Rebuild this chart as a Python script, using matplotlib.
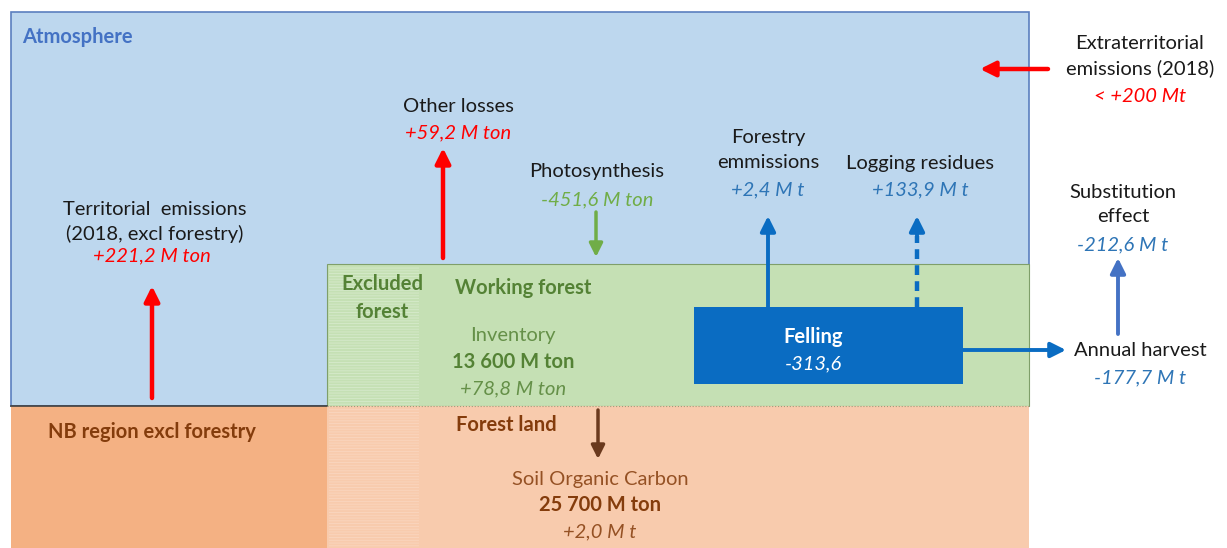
"""
Carbon flow diagram for the NB region: atmosphere, working forest, forest land.
"""

import matplotlib.pyplot as plt
from matplotlib.patches import Rectangle

# ── Data ────────────────────────────────────────────────────────────────
flux_names = [
    "Territorial  emissions\n(2018, excl forestry)",
    "Other losses",
    "Photosynthesis",
    "Forestry\nemmissions",
    "Logging residues",
    "Extraterritorial\nemissions (2018)",
    "Substitution\neffect",
    "Annual harvest",
]
flux_values = [
    "+221,2 M ton",
    "+59,2 M ton",
    "-451,6 M ton",
    "+2,4 M t",
    "+133,9 M t",
    "< +200 Mt",
    "-212,6 M t",
    "-177,7 M t",
]
stock_names = ["Inventory", "Soil Organic Carbon"]
stock_sizes = ["13 600 M ton", "25 700 M ton"]
stock_changes = ["+78,8 M ton", "+2,0 M t"]
felling_value = "-313,6"
region_labels = ["Atmosphere", "NB region excl forestry", "Excluded\nforest",
                 "Working forest", "Forest land", "Felling"]

# ── Colors ──────────────────────────────────────────────────────────────
SKY = "#BDD7EE"
SKY_EDGE = "#5B7FBF"
NB_ORANGE = "#F4B183"
FOREST_GREEN = "#C5E0B4"
LAND_PEACH = "#F8CBAD"
FELL_BLUE = "#0A6CC2"
RED = "#FF0000"
GREEN_TXT = "#548235"
GREEN_VAL = "#70AD47"
BLUE_VAL = "#2E75B6"
BROWN = "#843C0C"
TXT = "#1A1A1A"

plt.rcParams["font.family"] = ["Lato", "DejaVu Sans"]
plt.rcParams["hatch.linewidth"] = 0.6
FS = 14.5
LS = 1.5

fig = plt.figure(figsize=(12.27, 5.48), dpi=100)
ax = fig.add_axes([0, 0, 1, 1])
ax.set_xlim(0, 1227)
ax.set_ylim(548, 0)
ax.axis("off")

# ── Regions ─────────────────────────────────────────────────────────────
ax.add_patch(Rectangle((11, 12), 1018, 394, facecolor=SKY, edgecolor=SKY_EDGE, lw=1.2))
ax.add_patch(Rectangle((11, 406), 316, 150, facecolor=NB_ORANGE, edgecolor="none"))
ax.add_patch(Rectangle((327, 264), 702, 142, facecolor=FOREST_GREEN, edgecolor="#7F9F6A", lw=0.8))
ax.add_patch(Rectangle((327, 406), 702, 150, facecolor=LAND_PEACH, edgecolor="none"))
ax.plot([11, 327], [406, 406], color="#3F3F3F", lw=1.2)
ax.plot([327, 1029], [406, 406], color="#9E9E7A", lw=0.8, ls=":")

# excluded forest column: faint horizontal striping
ax.add_patch(Rectangle((329, 266), 90, 139, facecolor="none", edgecolor="#D6EACB",
                       hatch="------", lw=0))
ax.add_patch(Rectangle((329, 408), 90, 140, facecolor="none", edgecolor="#FAD6BF",
                       hatch="------", lw=0))

# felling box
ax.add_patch(Rectangle((694, 307), 269, 77, facecolor=FELL_BLUE, edgecolor="none", zorder=3))


def arrow(x0, y0, x1, y1, color, lw=3.2, hw=0.45, hl=0.9):
    ax.annotate("", xy=(x1, y1), xytext=(x0, y0), zorder=4,
                arrowprops=dict(arrowstyle=f"-|>,head_width={hw},head_length={hl}",
                                color=color, lw=lw, shrinkA=0, shrinkB=0))


# ── Arrows ──────────────────────────────────────────────────────────────
arrow(152, 398, 152, 286, RED)
arrow(443, 258, 443, 148, RED)
arrow(596, 212, 596, 257, GREEN_VAL, lw=2.5, hw=0.4, hl=0.8)
arrow(768, 307, 768, 216, FELL_BLUE, lw=2.8)
ax.plot([917, 917], [307, 236], color=FELL_BLUE, lw=3.2, ls=(0, (2.2, 1.4)), zorder=4)
arrow(917, 240, 917, 216, FELL_BLUE, lw=2.8)
arrow(963, 350, 1066, 350, FELL_BLUE, lw=2.8)
arrow(1118, 334, 1118, 258, "#4472C4", lw=2.8)
arrow(1048, 69, 980, 69, RED)
arrow(598, 410, 598, 459, "#6B3A1E", lw=2.5, hw=0.4, hl=0.8)

# ── Region labels ───────────────────────────────────────────────────────
ax.text(22, 37, region_labels[0], color="#4472C4", fontsize=FS, fontweight="bold",
        ha="left", va="center")
ax.text(152, 432, region_labels[1], color=BROWN, fontsize=FS, fontweight="bold",
        ha="center", va="center")
ax.text(382, 298, region_labels[2], color=GREEN_TXT, fontsize=FS, fontweight="bold",
        ha="center", va="center", linespacing=LS)
ax.text(523, 288, region_labels[3], color=GREEN_TXT, fontsize=FS, fontweight="bold",
        ha="center", va="center")
ax.text(506, 425, region_labels[4], color=BROWN, fontsize=FS, fontweight="bold",
        ha="center", va="center")
ax.text(813, 337, region_labels[5], color="white", fontsize=FS, fontweight="bold",
        ha="center", va="center", zorder=5)
ax.text(813, 364, felling_value, color="white", fontsize=FS, style="italic",
        ha="center", va="center", zorder=5)

# ── Flux labels ─────────────────────────────────────────────────────────
name_pos = [(155, 222), (458, 106), (597, 172), (768, 150), (920, 163),
            (1140, 56), (1123, 204), (1140, 350)]
value_pos = [(152, 256), (458, 133), (597, 200), (768, 190), (920, 190),
             (1140, 96), (1123, 245), (1140, 378)]
value_colors = [RED, RED, GREEN_VAL, BLUE_VAL, BLUE_VAL, RED, BLUE_VAL, BLUE_VAL]

for name, val, (nx, ny), (vx, vy), vc in zip(flux_names, flux_values, name_pos,
                                               value_pos, value_colors):
    ax.text(nx, ny, name, color=TXT, fontsize=FS, ha="center", va="center",
            linespacing=LS, zorder=5)
    ax.text(vx, vy, val, color=vc, fontsize=FS, style="italic", ha="center",
            va="center", zorder=5)

# ── Stocks ──────────────────────────────────────────────────────────────
stock_x = [513, 600]
stock_y = [336, 479]
stock_colors = [GREEN_TXT, BROWN]
for name, size, chg, x, y, c in zip(stock_names, stock_sizes, stock_changes,
                                     stock_x, stock_y, stock_colors):
    ax.text(x, y, name, color=c, fontsize=FS, ha="center", va="center", alpha=0.85)
    ax.text(x, y + 26, size, color=c, fontsize=FS, fontweight="bold", ha="center",
            va="center")
    ax.text(x, y + 53, chg, color=c, fontsize=FS, style="italic", ha="center",
            va="center", alpha=0.85)

fig.savefig("out.png", dpi=100)
